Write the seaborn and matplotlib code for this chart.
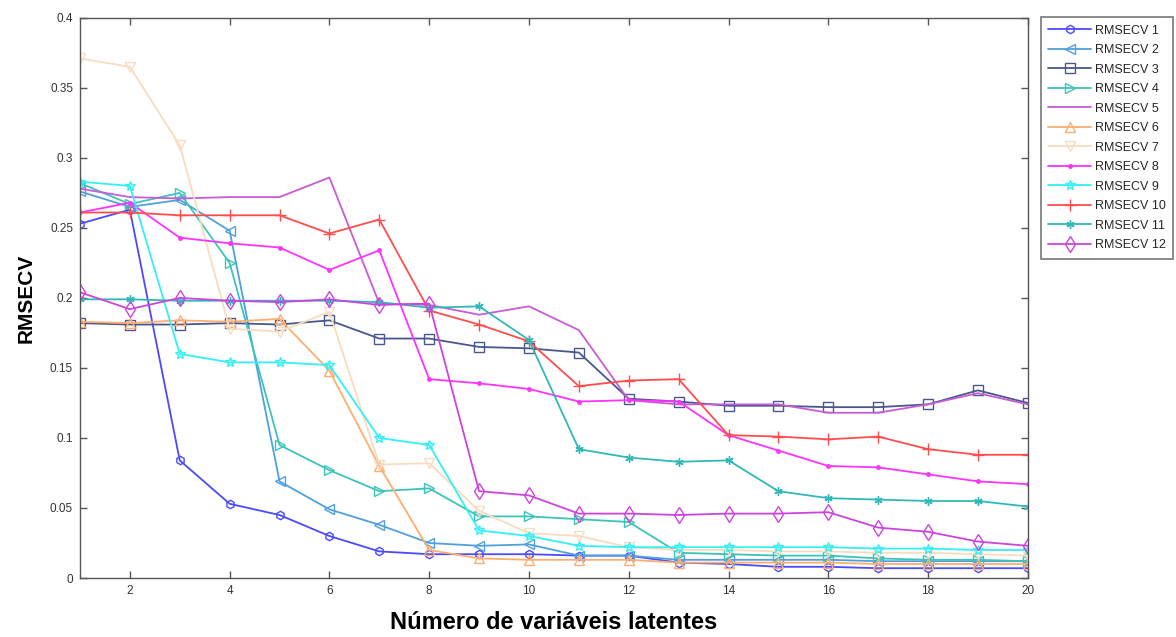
import numpy as np
import pandas as pd
import matplotlib
matplotlib.use("Agg")
import matplotlib.pyplot as plt
import seaborn as sns

n_lat = list(range(1, 21))

rmsecv_1 = [0.253, 0.263, 0.084, 0.053, 0.045, 0.030, 0.019, 0.017, 0.017, 0.017,
            0.016, 0.016, 0.011, 0.010, 0.008, 0.008, 0.007, 0.007, 0.007, 0.007]
rmsecv_2 = [0.276, 0.265, 0.270, 0.248, 0.069, 0.049, 0.038, 0.025, 0.023, 0.024,
            0.016, 0.016, 0.013, 0.013, 0.013, 0.013, 0.012, 0.012, 0.012, 0.012]
rmsecv_3 = [0.182, 0.181, 0.181, 0.182, 0.181, 0.184, 0.171, 0.171, 0.165, 0.164,
            0.161, 0.128, 0.126, 0.123, 0.123, 0.122, 0.122, 0.124, 0.134, 0.125]
rmsecv_4 = [0.282, 0.267, 0.275, 0.225, 0.095, 0.077, 0.062, 0.064, 0.044, 0.044,
            0.042, 0.040, 0.018, 0.017, 0.016, 0.016, 0.014, 0.013, 0.013, 0.012]
rmsecv_5 = [0.278, 0.272, 0.271, 0.272, 0.272, 0.286, 0.196, 0.195, 0.188, 0.194,
            0.177, 0.127, 0.124, 0.124, 0.124, 0.118, 0.118, 0.124, 0.132, 0.124]
rmsecv_6 = [0.183, 0.182, 0.184, 0.183, 0.185, 0.148, 0.080, 0.020, 0.014, 0.013,
            0.013, 0.013, 0.011, 0.011, 0.011, 0.011, 0.010, 0.010, 0.010, 0.010]
rmsecv_7 = [0.371, 0.365, 0.309, 0.178, 0.176, 0.190, 0.081, 0.082, 0.048, 0.032,
            0.030, 0.022, 0.020, 0.020, 0.019, 0.019, 0.018, 0.018, 0.017, 0.016]
rmsecv_8 = [0.261, 0.268, 0.243, 0.239, 0.236, 0.220, 0.234, 0.142, 0.139, 0.135,
            0.126, 0.127, 0.126, 0.102, 0.091, 0.080, 0.079, 0.074, 0.069, 0.067]
rmsecv_9 = [0.283, 0.280, 0.160, 0.154, 0.154, 0.152, 0.100, 0.095, 0.034, 0.030,
            0.023, 0.022, 0.022, 0.022, 0.022, 0.022, 0.021, 0.021, 0.020, 0.020]
rmsecv_10 = [0.261, 0.261, 0.259, 0.259, 0.259, 0.246, 0.256, 0.191, 0.181, 0.169,
             0.137, 0.141, 0.142, 0.102, 0.101, 0.099, 0.101, 0.092, 0.088, 0.088]
rmsecv_11 = [0.199, 0.199, 0.198, 0.198, 0.198, 0.198, 0.197, 0.193, 0.194, 0.170,
             0.092, 0.086, 0.083, 0.084, 0.062, 0.057, 0.056, 0.055, 0.055, 0.051]
rmsecv_12 = [0.204, 0.192, 0.200, 0.198, 0.197, 0.199, 0.195, 0.196, 0.062, 0.059,
             0.046, 0.046, 0.045, 0.046, 0.046, 0.047, 0.036, 0.033, 0.026, 0.023]

series_names = [f"RMSECV {i}" for i in range(1, 13)]
series_values = [rmsecv_1, rmsecv_2, rmsecv_3, rmsecv_4, rmsecv_5, rmsecv_6,
                 rmsecv_7, rmsecv_8, rmsecv_9, rmsecv_10, rmsecv_11, rmsecv_12]

x_ticks = [2, 4, 6, 8, 10, 12, 14, 16, 18, 20]
y_ticks = [0, 0.05, 0.1, 0.15, 0.2, 0.25, 0.3, 0.35, 0.4]
y_tick_labels = ["0", "0.05", "0.1", "0.15", "0.2", "0.25", "0.3", "0.35", "0.4"]

colors = ["#4a4aff", "#4fa0dc", "#49578c", "#3cc4b8", "#c95bd6", "#ffad70",
          "#f7dcc0", "#ff33ff", "#33f0f5", "#ff4d4d", "#30b8b8", "#cc44dd"]
markers = ["h", "<", "s", ">", None, "^", "v", ".", "*", "+", (6, 2, 0), "d"]
filled = [False, False, False, False, False, False, False, True, False, False, True, False]
msizes = [6, 7, 7, 7, 0, 7, 7, 5, 7, 9, 6, 8]

rows = []
for name, vals in zip(series_names, series_values):
    for xv, yv in zip(n_lat, vals):
        rows.append({"serie": name, "n": xv, "rmsecv": yv})
df = pd.DataFrame(rows)

sns.set_style("white")
plt.rcParams["font.family"] = ["Liberation Sans", "DejaVu Sans"]

fig = plt.figure(figsize=(11.76, 6.37), dpi=100)
ax = fig.add_axes([0.068, 0.0926, 0.806, 0.8794])

for i, name in enumerate(series_names):
    sub = df[df["serie"] == name]
    kw = dict(x="n", y="rmsecv", data=sub, ax=ax, color=colors[i], lw=1.3,
              label=name, legend=False)
    if markers[i] is not None:
        kw["marker"] = markers[i]
        kw["markersize"] = msizes[i]
        kw["markeredgewidth"] = 1.0
        kw["markeredgecolor"] = colors[i]
        kw["markerfacecolor"] = colors[i] if filled[i] else "none"
    sns.lineplot(**kw)

ax.set_xlim(1, 20)
ax.set_ylim(0, 0.4)
ax.set_xticks(x_ticks)
ax.set_yticks(y_ticks)
ax.set_yticklabels(y_tick_labels)
ax.tick_params(direction="in", length=5, width=1, colors="#555555",
               labelcolor="#333333", labelsize=8.5, top=True, right=True,
               bottom=True, left=True, pad=5)
for s in ax.spines.values():
    s.set_visible(True)
    s.set_color("#555555")
    s.set_linewidth(1.0)

ax.set_xlabel("Número de variáveis latentes", fontsize=17, fontweight="bold",
              color="black", labelpad=10)
ax.set_ylabel("RMSECV", fontsize=15, fontweight="bold", color="black", labelpad=10)

handles, labels = ax.get_legend_handles_labels()
leg = fig.legend(handles, labels, loc="upper left", bbox_to_anchor=(0.885, 0.973),
                 bbox_transform=fig.transFigure, fontsize=9, frameon=True,
                 fancybox=False, edgecolor="#555555", handlelength=3.4,
                 labelspacing=0.6, borderpad=0.6, handletextpad=0.3,
                 borderaxespad=0)
leg.get_frame().set_linewidth(1.2)

fig.savefig("out.png", dpi=100)
